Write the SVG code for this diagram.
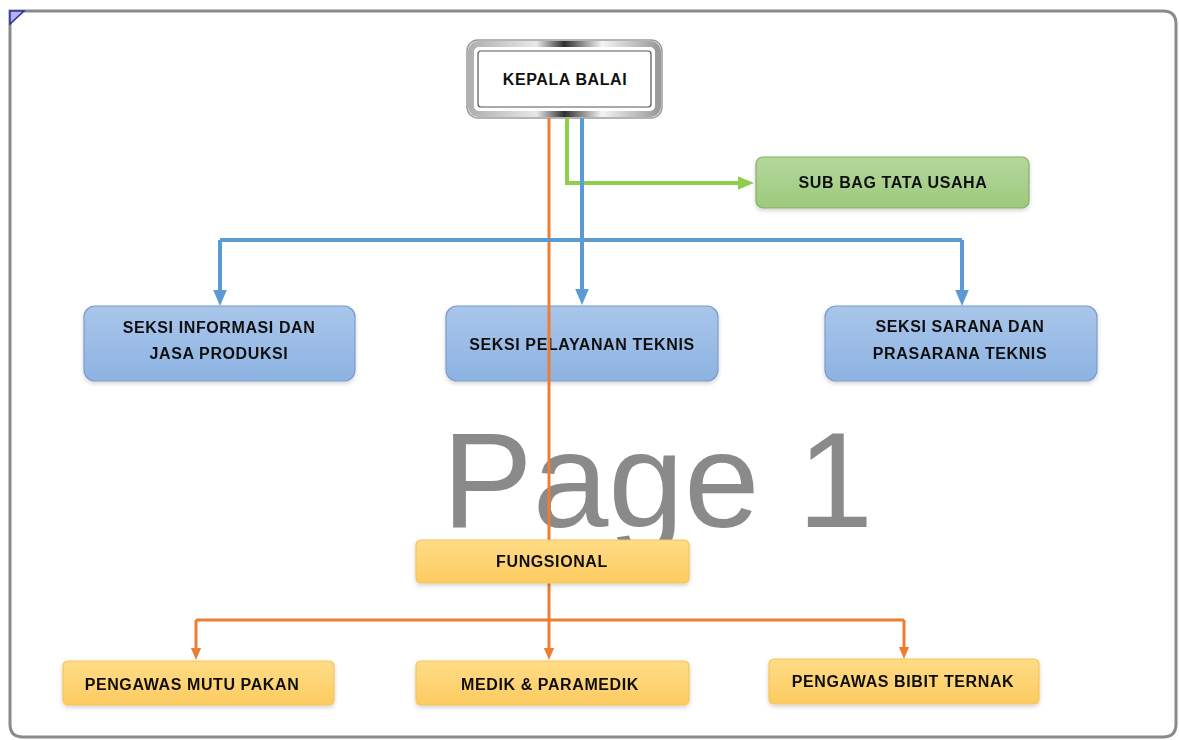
<svg xmlns="http://www.w3.org/2000/svg" width="1179" height="740" viewBox="0 0 1179 740">
<defs>
<style>
.t{font-family:"Liberation Sans",Arial,sans-serif;font-weight:bold;font-size:16px;letter-spacing:0.6px;fill:#111;text-anchor:middle;}
.blue{fill:url(#gBlue);stroke:#7a9ccc;stroke-width:1.2;}
.yel{fill:url(#gYel);stroke:#f3c65a;stroke-width:1.2;}
.grn{fill:url(#gGrn);stroke:#86ad6b;stroke-width:1.2;}
.lb{fill:none;stroke:#5b9bd5;stroke-width:4;}
.lg{fill:none;stroke:#8fce4c;stroke-width:4;}
.lo{fill:none;stroke:#ed7d31;stroke-width:3;}
.wm{font-family:"Liberation Sans",Arial,sans-serif;font-size:136px;fill:#8a8a8a;}
</style>
<linearGradient id="gBlue" x1="0" y1="0" x2="0" y2="1"><stop offset="0" stop-color="#a9c6ea"/><stop offset="1" stop-color="#8db3e2"/></linearGradient>
<linearGradient id="gYel" x1="0" y1="0" x2="0" y2="1"><stop offset="0" stop-color="#ffdc86"/><stop offset="1" stop-color="#fdcb61"/></linearGradient>
<linearGradient id="gGrn" x1="0" y1="0" x2="0" y2="1"><stop offset="0" stop-color="#b5d89c"/><stop offset="1" stop-color="#9cc97c"/></linearGradient>
<linearGradient id="gSilver" x1="0" y1="0" x2="1" y2="0"><stop offset="0" stop-color="#b0b0b0"/><stop offset="0.35" stop-color="#e8e8e8"/><stop offset="0.5" stop-color="#303030"/><stop offset="0.7" stop-color="#f4f4f4"/><stop offset="1" stop-color="#9a9a9a"/></linearGradient>
<filter id="sh" x="-10%" y="-20%" width="120%" height="150%"><feDropShadow dx="0" dy="2" stdDeviation="2" flood-color="#000" flood-opacity="0.18"/></filter>
<marker id="aB" markerWidth="4" markerHeight="4" refX="2" refY="2" orient="auto" markerUnits="strokeWidth"><path d="M0,0.3 L4,2 L0,3.7 Z" fill="#5b9bd5"/></marker>
<marker id="aG" markerWidth="4" markerHeight="4" refX="2" refY="2" orient="auto" markerUnits="strokeWidth"><path d="M0,0.3 L4,2 L0,3.7 Z" fill="#8fce4c"/></marker>
<marker id="aO" markerWidth="4" markerHeight="4" refX="2" refY="2" orient="auto" markerUnits="strokeWidth"><path d="M0,0.3 L4,2 L0,3.7 Z" fill="#ed7d31"/></marker>
</defs>
<rect width="1179" height="740" fill="#ffffff"/>
<path d="M10,11 L1163,11 Q1176,11 1176,24 L1176,724 Q1176,737 1163,737 L23,737 Q10,737 10,724 Z" fill="none" stroke="#8a8a8a" stroke-width="3"/>
<polygon points="10,11 24,11 10,24" fill="#b8b0f4" stroke="#2c2c9c" stroke-width="1.5"/>
<text class="wm" x="442" y="527">Page 1</text>
<g id="kepala">
<rect x="467" y="40" width="195" height="78" rx="11" fill="#fff" stroke="#9a9a9a" stroke-width="1.5"/>
<rect x="471" y="44" width="187" height="70" rx="8" fill="none" stroke="url(#gSilver)" stroke-width="6"/>
<rect x="478" y="51" width="173" height="56" rx="3" fill="#fff" stroke="#555" stroke-width="1.2"/>
<text class="t" x="565" y="85">KEPALA BALAI</text>
</g>
<g id="subbag" filter="url(#sh)">
<rect class="grn" x="756" y="157" width="273" height="51" rx="7"/>
<text class="t" x="893" y="188">SUB BAG TATA USAHA</text>
</g>
<g id="seksi-informasi" filter="url(#sh)">
<rect class="blue" x="84" y="306" width="271" height="75" rx="11"/>
<text class="t" x="219" y="333">SEKSI INFORMASI DAN</text>
<text class="t" x="219" y="359">JASA PRODUKSI</text>
</g>
<g id="seksi-pelayanan" filter="url(#sh)">
<rect class="blue" x="446" y="306" width="272" height="75" rx="11"/>
<text class="t" x="582" y="350">SEKSI PELAYANAN TEKNIS</text>
</g>
<g id="seksi-sarana" filter="url(#sh)">
<rect class="blue" x="825" y="306" width="272" height="75" rx="11"/>
<text class="t" x="960" y="332">SEKSI SARANA DAN</text>
<text class="t" x="960" y="359">PRASARANA TEKNIS</text>
</g>
<g id="connectors">
<path class="lo" d="M549,118 L549,654" marker-end="url(#aO)"/>
<path class="lg" d="M567,118 L567,183 L746,183" marker-end="url(#aG)"/>
<path class="lb" d="M582,118 L582,297" marker-end="url(#aB)"/>
<path class="lb" d="M220,240 L962,240"/>
<path class="lb" d="M220,240 L220,298" marker-end="url(#aB)"/>
<path class="lb" d="M962,240 L962,298" marker-end="url(#aB)"/>
<path class="lo" d="M196,620 L904,620"/>
<path class="lo" d="M196,620 L196,654" marker-end="url(#aO)"/>
<path class="lo" d="M904,620 L904,653" marker-end="url(#aO)"/>
</g>
<g id="fungsional" filter="url(#sh)">
<rect class="yel" x="416" y="540" width="273" height="43" rx="5"/>
<text class="t" x="552" y="567">FUNGSIONAL</text>
</g>
<g id="pengawas-mutu" filter="url(#sh)">
<rect class="yel" x="63" y="661" width="271" height="44" rx="5"/>
<text class="t" x="192" y="690">PENGAWAS MUTU PAKAN</text>
</g>
<g id="medik" filter="url(#sh)">
<rect class="yel" x="416" y="661" width="273" height="44" rx="5"/>
<text class="t" x="550" y="690">MEDIK &amp; PARAMEDIK</text>
</g>
<g id="pengawas-bibit" filter="url(#sh)">
<rect class="yel" x="769" y="659" width="270" height="45" rx="5"/>
<text class="t" x="903" y="687">PENGAWAS BIBIT TERNAK</text>
</g>
</svg>
